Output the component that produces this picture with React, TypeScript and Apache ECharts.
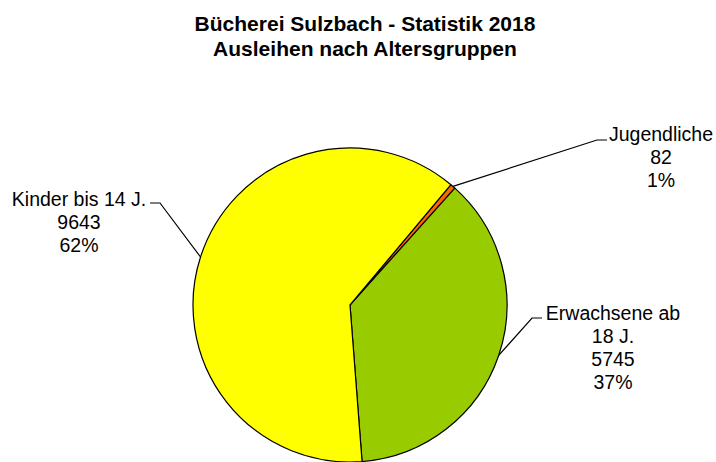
import React, { useEffect, useRef } from "react";
import * as echarts from "echarts";

const titleLines = ["Bücherei Sulzbach - Statistik 2018", "Ausleihen nach Altersgruppen"];
const categories = ["Jugendliche", "Erwachsene ab\n18 J.", "Kinder bis 14 J."];
const values = [82, 5745, 9643];
const colors = ["#FF6600", "#99CC00", "#FFFF00"];

// label anchor positions and leader bends (px)
const labelPos = [
  { x: 661, y: 157, bend: [597, 140], end: [607, 140] },
  { x: 613, y: 347, bend: [532, 318], end: [542, 318] },
  { x: 79, y: 222, bend: [160, 203], end: [150, 203] },
];

export default function App() {
  const ref = useRef<HTMLDivElement>(null);
  useEffect(() => {
    if (!ref.current) return;
    const chart = echarts.init(ref.current, null, { renderer: "svg" });
    const total = values.reduce((a, b) => a + b, 0);
    chart.setOption({
      animation: false,
      backgroundColor: "#ffffff",
      title: {
        text: titleLines.join("\n"),
        left: 360,
        top: 6,
        textAlign: "center",
        textStyle: {
          fontFamily: "Liberation Sans, Arial, sans-serif",
          fontWeight: "bold",
          fontSize: 21,
          lineHeight: 25,
          color: "#000",
        },
      },
      series: [
        {
          type: "pie",
          center: [350, 305],
          radius: 157,
          startAngle: 50,
          clockwise: true,
          avoidLabelOverlap: false,
          data: categories.map((c, i) => ({
            name: c,
            value: values[i],
            itemStyle: { color: colors[i] },
          })),
          itemStyle: { borderColor: "#000", borderWidth: 1.2 },
          emphasis: { disabled: true },
          label: {
            show: true,
            position: "outside",
            formatter: (p: any) =>
              `${p.name}\n${p.value}\n${Math.round((p.value / total) * 100)}%`,
            fontFamily: "Liberation Sans, Arial, sans-serif",
            fontSize: 19.5,
            lineHeight: 23,
            color: "#000",
            align: "center",
          },
          labelLine: {
            show: true,
            length: 20,
            length2: 10,
            lineStyle: { color: "#000", width: 1.2 },
          },
          labelLayout: (params: any) => {
            const lp = labelPos[params.dataIndex];
            const start = params.labelLinePoints ? params.labelLinePoints[0] : [0, 0];
            return {
              x: lp.x,
              y: lp.y,
              align: "center",
              verticalAlign: "middle",
              labelLinePoints: [start, lp.bend, lp.end],
            };
          },
        },
      ],
    });
    return () => chart.dispose();
  }, []);
  return (
    <div
      ref={ref}
      style={{ position: "fixed", left: 0, top: 0, width: 716, height: 462 }}
    />
  );
}
